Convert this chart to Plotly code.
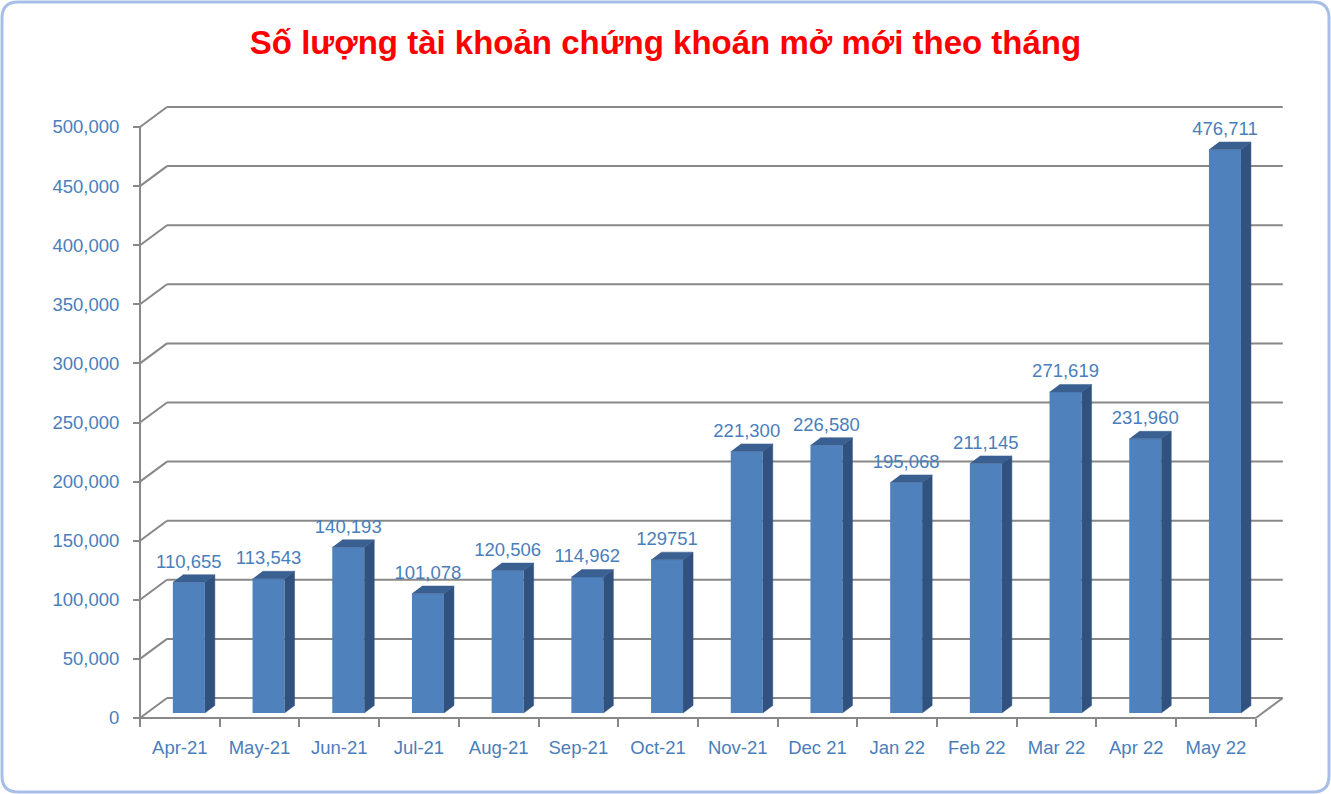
import plotly.graph_objects as go

# ---------------- data ----------------
categories = ["Apr-21", "May-21", "Jun-21", "Jul-21", "Aug-21", "Sep-21", "Oct-21",
              "Nov-21", "Dec 21", "Jan 22", "Feb 22", "Mar 22", "Apr 22", "May 22"]
accounts = [110655, 113543, 140193, 101078, 120506, 114962, 129751,
            221300, 226580, 195068, 211145, 271619, 231960, 476711]
value_labels = ["110,655", "113,543", "140,193", "101,078", "120,506", "114,962", "129751",
                "221,300", "226,580", "195,068", "211,145", "271,619", "231,960", "476,711"]
y_ticks = [0, 50000, 100000, 150000, 200000, 250000, 300000, 350000, 400000, 450000, 500000]
y_tick_labels = ["0", "50,000", "100,000", "150,000", "200,000", "250,000", "300,000",
                 "350,000", "400,000", "450,000", "500,000"]
title_text = "Số lượng tài khoản chứng khoán mở mới theo tháng"

# ---------------- layout geometry (pixels) ----------------
FIG_W, FIG_H = 1331, 794
L, R, T, B = 128, 1300, 95, 740          # plot area box
PLOT_W, PLOT_H = R - L, B - T
X0_PX = 140                               # front-left corner of the floor
Y0_PX = 718                               # value 0 on the front axis
PX_PER_CAT = 79.7
PX_PER_UNIT = 591 / 500000

def dx(px):
    return px / PX_PER_CAT

def dy(px):
    return px / PX_PER_UNIT

x_range = [-0.5 - dx(X0_PX - L), -0.5 + dx(R - X0_PX)]
y_range = [-dy(B - Y0_PX), dy(Y0_PX - T)]

BACK_DX, BACK_DY = dx(27), dy(20)          # depth of the back wall
BAR_W = dx(32)
BAR_SHIFT = dx(9)
BAR_BASE = dy(5)
DEPTH_DX, DEPTH_DY = dx(10), dy(7.5)       # depth of each bar
LABEL_GAP = dy(2.5)

n = len(categories)
x_left_edge, x_right_edge = -0.5, n - 0.5

GRID = "#888888"
FRONT = "#4F81BD"
SIDE = "#31527E"
TOP = "#3A5F91"
TXT = "#4A7EBB"
FONT = "Liberation Sans"
FS = 18.5

# ---------------- bars ----------------
xc = [i + BAR_SHIFT for i in range(n)]
xl = [c - BAR_W / 2 for c in xc]
xr = [c + BAR_W / 2 for c in xc]
tops = [BAR_BASE + v for v in accounts]

side_x, side_y, top_x, top_y = [], [], [], []
for i in range(n):
    side_x += [xr[i], xr[i] + DEPTH_DX, xr[i] + DEPTH_DX, xr[i], None]
    side_y += [BAR_BASE, BAR_BASE + DEPTH_DY, tops[i] + DEPTH_DY, tops[i], None]
    top_x += [xl[i], xr[i], xr[i] + DEPTH_DX, xl[i] + DEPTH_DX, None]
    top_y += [tops[i], tops[i], tops[i] + DEPTH_DY, tops[i] + DEPTH_DY, None]

fig = go.Figure()
fig.add_trace(go.Bar(x=xc, y=accounts, base=BAR_BASE, width=BAR_W,
                     marker=dict(color=FRONT, line=dict(width=0)), hoverinfo="skip"))
fig.add_trace(go.Scatter(x=side_x, y=side_y, mode="lines", fill="toself", fillcolor=SIDE,
                         line=dict(color=SIDE, width=0.5), hoverinfo="skip"))
fig.add_trace(go.Scatter(x=top_x, y=top_y, mode="lines", fill="toself", fillcolor=TOP,
                         line=dict(color=TOP, width=0.5), hoverinfo="skip"))
fig.add_trace(go.Scatter(x=xc, y=[t + DEPTH_DY + LABEL_GAP for t in tops],
                         mode="text", text=value_labels, textposition="top center",
                         textfont=dict(family=FONT, size=FS, color=TXT),
                         cliponaxis=False, hoverinfo="skip"))

# ---------------- back wall grid & floor (below traces) ----------------
shapes = []
for v in y_ticks:
    shapes.append(dict(type="line", xref="x", yref="y", layer="below",
                       x0=x_left_edge, y0=v, x1=x_left_edge + BACK_DX, y1=v + BACK_DY,
                       line=dict(color=GRID, width=2)))
    shapes.append(dict(type="line", xref="x", yref="y", layer="below",
                       x0=x_left_edge + BACK_DX, y0=v + BACK_DY,
                       x1=x_right_edge + BACK_DX, y1=v + BACK_DY,
                       line=dict(color=GRID, width=2)))
# front floor edge and right floor edge
shapes.append(dict(type="line", xref="x", yref="y", layer="below",
                   x0=x_left_edge, y0=0, x1=x_right_edge, y1=0, line=dict(color=GRID, width=2)))
shapes.append(dict(type="line", xref="x", yref="y", layer="below",
                   x0=x_right_edge, y0=0, x1=x_right_edge + BACK_DX, y1=BACK_DY,
                   line=dict(color=GRID, width=2)))
# front value axis
shapes.append(dict(type="line", xref="x", yref="y", layer="below",
                   x0=x_left_edge, y0=0, x1=x_left_edge, y1=y_ticks[-1],
                   line=dict(color=GRID, width=2)))

# rounded outer border (paper coordinates)
def px2paper_x(px):
    return (px - L) / PLOT_W

def px2paper_y(py):
    return (B - py) / PLOT_H

bx0, bx1, by0, by1, rad = 2, 1329, 2, 792, 16
path = (f"M {px2paper_x(bx0 + rad)},{px2paper_y(by0)} "
        f"L {px2paper_x(bx1 - rad)},{px2paper_y(by0)} "
        f"Q {px2paper_x(bx1)},{px2paper_y(by0)} {px2paper_x(bx1)},{px2paper_y(by0 + rad)} "
        f"L {px2paper_x(bx1)},{px2paper_y(by1 - rad)} "
        f"Q {px2paper_x(bx1)},{px2paper_y(by1)} {px2paper_x(bx1 - rad)},{px2paper_y(by1)} "
        f"L {px2paper_x(bx0 + rad)},{px2paper_y(by1)} "
        f"Q {px2paper_x(bx0)},{px2paper_y(by1)} {px2paper_x(bx0)},{px2paper_y(by1 - rad)} "
        f"L {px2paper_x(bx0)},{px2paper_y(by0 + rad)} "
        f"Q {px2paper_x(bx0)},{px2paper_y(by0)} {px2paper_x(bx0 + rad)},{px2paper_y(by0)} Z")
shapes.append(dict(type="path", xref="paper", yref="paper", path=path, layer="above",
                   line=dict(color="#A7BFE8", width=3)))

fig.update_layout(
    width=FIG_W, height=FIG_H,
    margin=dict(l=L, r=FIG_W - R, t=T, b=FIG_H - B, pad=0),
    paper_bgcolor="white", plot_bgcolor="white",
    showlegend=False,
    shapes=shapes,
    title=dict(text=title_text, x=0.5, xanchor="center", xref="container",
               y=1 - 42 / FIG_H, yanchor="middle", yref="container",
               font=dict(family=FONT, size=33, color="#FF0000", weight="bold")),
    xaxis=dict(range=x_range, anchor="free", position=px2paper_y(Y0_PX),
               showgrid=False, zeroline=False, showline=False,
               tickmode="array", tickvals=list(range(n)), ticktext=categories,
               ticks="", ticklabelstandoff=16,
               tickfont=dict(family=FONT, size=FS, color=TXT),
               minor=dict(tickmode="array", tickvals=[i - 0.5 for i in range(n + 1)],
                          ticks="outside", ticklen=8, tickwidth=2, tickcolor=GRID,
                          showgrid=False)),
    yaxis=dict(range=y_range, anchor="free", position=px2paper_x(X0_PX),
               showgrid=False, zeroline=False, showline=False,
               tickmode="array", tickvals=y_ticks, ticktext=y_tick_labels,
               ticks="outside", ticklen=7, tickwidth=2, tickcolor=GRID,
               ticklabelstandoff=10,
               tickfont=dict(family=FONT, size=FS, color=TXT)),
)

fig.write_html("out.html", config={"displayModeBar": False},
               post_script="document.body.style.margin='0';document.body.style.padding='0';"
                           "document.documentElement.style.overflow='hidden';")
